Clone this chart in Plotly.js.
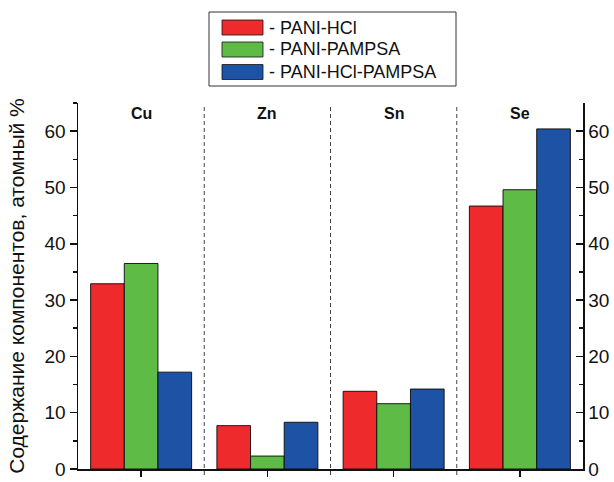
<!DOCTYPE html>
<html>
<head>
<meta charset="utf-8">
<script src="https://cdn.plot.ly/plotly-3.0.1.min.js"></script>
<style>html,body{margin:0;padding:0;background:#fff;}#chart{width:614px;height:482px;}</style>
</head>
<body>
<div id="chart"></div>
<script>
const categories = ['Cu', 'Zn', 'Sn', 'Se'];
const seriesNames = ['- PANI-HCl', '- PANI-PAMPSA', '- PANI-HCl-PAMPSA'];
const paniHCl = [32.9, 7.7, 13.8, 46.7];
const paniPAMPSA = [36.5, 2.3, 11.6, 49.6];
const paniHClPAMPSA = [17.2, 8.3, 14.2, 60.4];
const yTickVals = [0, 10, 20, 30, 40, 50, 60];
const yTitle = 'Содержание компонентов, атомный %';

const colors = ['#EE2A2C', '#5DBB46', '#1E52A5'];
const seriesValues = [paniHCl, paniPAMPSA, paniHClPAMPSA];
const FONT = 'Liberation Sans, Arial, sans-serif';

const M = {l: 78, r: 31, t: 103, b: 13};
const W = 614, H = 482;
const PW = W - M.l - M.r, PH = H - M.t - M.b;
const px2x = p => (p - M.l) / PW;
const px2y = p => (H - M.b - p) / PH;

const traces = seriesValues.map((vals, i) => ({
  type: 'bar',
  x: categories,
  y: vals,
  name: seriesNames[i],
  marker: {color: colors[i], line: {color: 'rgba(10,10,10,0.9)', width: 1}},
  showlegend: false,
  hoverinfo: 'x+y'
}));
// invisible trace to carry right axis
traces.push({type: 'scatter', x: [categories[0]], y: [0], yaxis: 'y2', mode: 'markers',
  marker: {opacity: 0}, showlegend: false, hoverinfo: 'skip'});

const shapes = [];
const annotations = [];
// group separators
for (let i = 0; i < categories.length - 1; i++) {
  shapes.push({type: 'line', xref: 'x', yref: 'paper', x0: i + 0.5, x1: i + 0.5, y0: px2y(H - M.b + 6), y1: 0.995,
    line: {color: '#444', width: 1, dash: '4px,3px'}});
}
// group labels
categories.forEach((c, i) => {
  annotations.push({x: c, y: 63.2, xref: 'x', yref: 'y', text: '<b>' + c + '</b>', showarrow: false,
    font: {family: FONT, size: 16, color: '#111'}, xanchor: 'center', yanchor: 'middle'});
});
// legend box (drawn manually to match swatch shape)
shapes.push({type: 'rect', xref: 'paper', yref: 'paper', x0: px2x(209), x1: px2x(456),
  y0: px2y(86), y1: px2y(12), line: {color: '#333', width: 1}, fillcolor: 'rgba(0,0,0,0)'});
const rowCenters = [27.5, 49.5, 72];
seriesNames.forEach((n, i) => {
  const yc = rowCenters[i];
  shapes.push({type: 'rect', xref: 'paper', yref: 'paper', x0: px2x(222), x1: px2x(263),
    y0: px2y(yc + 7.5), y1: px2y(yc - 7.5),
    fillcolor: colors[i], line: {color: 'rgba(20,20,20,0.8)', width: 1}});
  annotations.push({xref: 'paper', yref: 'paper', x: px2x(267), y: px2y(yc),
    text: n, showarrow: false, xanchor: 'left', yanchor: 'middle',
    font: {family: FONT, size: 18, color: '#111'}});
});

const axisCommon = {
  range: [0, 65], tickvals: yTickVals, showline: true, linecolor: '#111', linewidth: 1.5,
  showgrid: false, zeroline: false, ticklen: 7, tickwidth: 1.5, tickcolor: '#111',
  ticklabeloverflow: 'allow',
  tickfont: {family: FONT, size: 19, color: '#111'},
  minor: {dtick: 5, tick0: 5, ticklen: 4, tickwidth: 1.5, tickcolor: '#111', showgrid: false}
};

const layout = {
  width: W, height: H,
  margin: M,
  paper_bgcolor: '#fff', plot_bgcolor: '#fff',
  barmode: 'group', bargap: 0.2, bargroupgap: 0,
  xaxis: {type: 'category', range: [-0.5, 3.5], showline: true, linecolor: '#111', linewidth: 1.5,
    showticklabels: false, ticks: 'outside', ticklen: 6, tickwidth: 1.5, tickcolor: '#111',
    showgrid: false, zeroline: false, fixedrange: true},
  yaxis: Object.assign({}, axisCommon, {ticks: 'outside', minor: Object.assign({}, axisCommon.minor, {ticks: 'outside'}),
    title: {text: yTitle, font: {family: FONT, size: 21, color: '#111'}, standoff: 14}}),
  yaxis2: Object.assign({}, axisCommon, {overlaying: 'y', side: 'right', ticks: 'inside',
    minor: Object.assign({}, axisCommon.minor, {ticks: 'inside'})}),
  shapes: shapes,
  annotations: annotations
};

Plotly.newPlot('chart', traces, layout, {displayModeBar: false, staticPlot: true});
</script>
</body>
</html>
